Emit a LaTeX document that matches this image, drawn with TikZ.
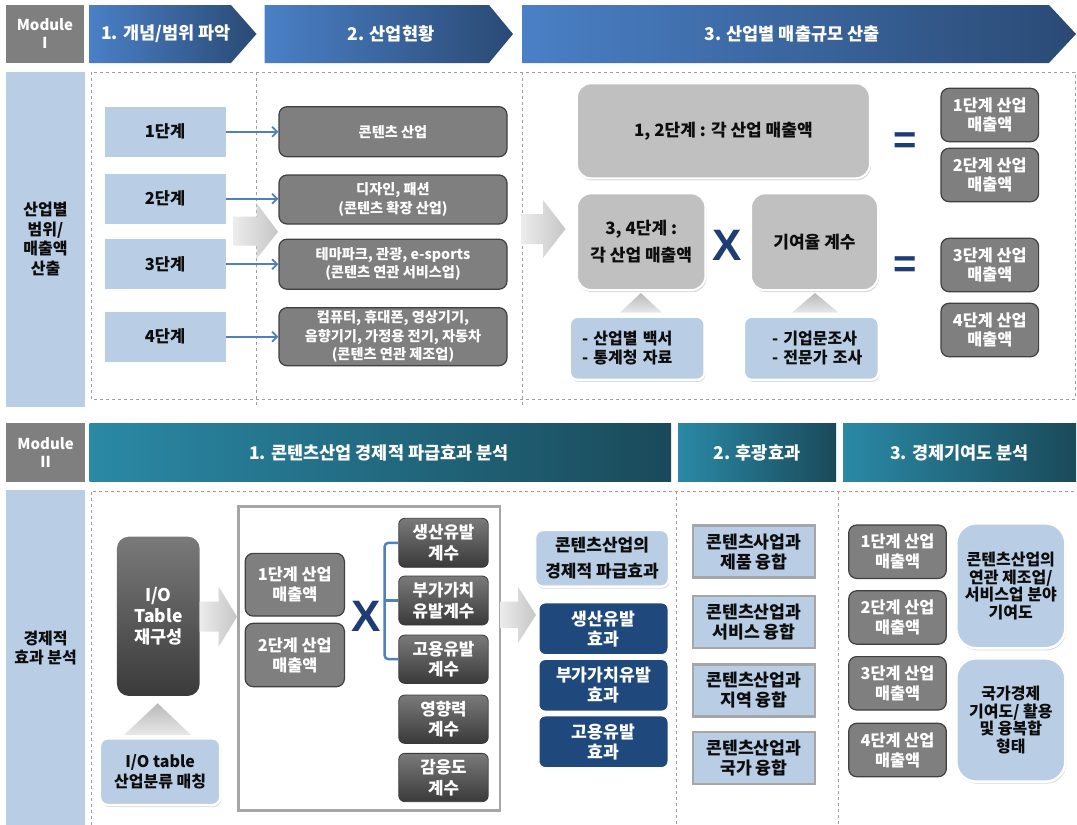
\documentclass[tikz,border=0pt]{standalone}
\usepackage{fontspec}
\setmainfont{Noto Sans CJK KR}
\newfontfamily\latinfont{Liberation Sans}
\usetikzlibrary{arrows.meta,shadows}
\definecolor{hbL}{HTML}{4A80C6}
\definecolor{hbR}{HTML}{2A4A74}
\definecolor{htL}{HTML}{2A89A6}
\definecolor{htR}{HTML}{1A4A5A}
\definecolor{modgray}{HTML}{7F7F7F}
\definecolor{lblue}{HTML}{B9CDE5}
\definecolor{dgray}{HTML}{7F7F7F}
\definecolor{dborder}{HTML}{404040}
\definecolor{lgray}{HTML}{C0C0C0}
\definecolor{navy}{HTML}{1F497D}
\definecolor{xblue}{HTML}{1F3D73}
\definecolor{arrblue}{HTML}{4F81BD}
\definecolor{gtop}{HTML}{7A7A7A}
\definecolor{gbot}{HTML}{3A3A3A}
\definecolor{fgray}{HTML}{A6A6A6}
\definecolor{txt}{HTML}{0D0D0D}
\tikzset{
  every node/.style={inner sep=0pt, align=center},
  modbox/.style={fill=modgray, text=white, font=\bfseries\fontsize{15}{18}\selectfont},
  htext/.style={text=white, font=\bfseries\fontsize{17.5}{20}\selectfont},
  sidelabel/.style={fill=lblue, text=txt, font=\bfseries\fontsize{16}{19.5}\selectfont},
  stepbox/.style={fill=lblue, text=txt, font=\bfseries\fontsize{16.5}{18}\selectfont, minimum width=121, minimum height=50},
  gbox/.style={fill=dgray, draw=dborder, line width=1.2pt, rounded corners=8pt, text=white, font=\bfseries\fontsize{14.2}{18.3}\selectfont, minimum width=228},
  lgbox/.style={fill=lgray, draw=white, line width=2pt, rounded corners=14pt, text=txt, font=\bfseries\fontsize{17}{27}\selectfont, drop shadow={opacity=0.3, shadow xshift=1pt, shadow yshift=-2pt}},
  lbglow/.style={fill=lblue, draw=white, line width=2.5pt, rounded corners=8pt, text=txt, drop shadow={opacity=0.3, shadow xshift=1pt, shadow yshift=-2pt}},
  rbox/.style={fill=dgray, draw=dborder, line width=1.2pt, rounded corners=8pt, text=white, font=\bfseries\fontsize{16.3}{18.3}\selectfont, minimum width=97.6, minimum height=53.4},
  gradbox/.style={top color=gtop, bottom color=gbot, draw=gbot, line width=0.8pt, rounded corners=6pt, text=white, font=\bfseries\fontsize{16.8}{20.5}\selectfont},
  navybox/.style={fill=navy, rounded corners=6pt, text=white, font=\bfseries\fontsize{17.2}{20}\selectfont, minimum width=128, minimum height=50.5},
  fbox/.style={fill=lblue, draw=fgray, line width=2.5pt, text=txt, font=\bfseries\fontsize{17.2}{20}\selectfont, minimum width=121.8, minimum height=52},
  bigx/.style={text=xblue, font=\latinfont\bfseries\fontsize{44}{44}\selectfont},
  eqsign/.style={text=xblue, font=\latinfont\bfseries\fontsize{40}{40}\selectfont},
  barrow/.style={draw=arrblue, line width=1.8pt, -{Straight Barb[length=5pt,width=10pt]}},
  dashline/.style={draw=gray!75, dashed, line width=0.8pt},
  grayarrow/.style={left color=gray!15, right color=gray!45},
  graytri/.style={top color=gray!55, bottom color=gray!18},
  bracket/.style={draw=arrblue, line width=2.5pt, rounded corners=4pt},
}
\begin{document}
\begin{tikzpicture}[x=1pt,y=-1pt]
\useasboundingbox (0,0) rectangle (1077,825);
\fill[white] (0,0) rectangle (1077,825);

% ---------- Module I headers ----------
\node[modbox, minimum width=78, minimum height=58] (m1) at (45,34) {Module\\Ⅰ};
\path[left color=hbL, right color=hbR] (89.5,5) -- (231,5) -- (256.5,34) -- (231,63) -- (89.5,63) -- cycle;
\node[htext] (h1) at (166,34) {1. 개념/범위 파악};
\path[left color=hbL, right color=hbR] (264.5,5) -- (489,5) -- (513,34) -- (489,63) -- (264.5,63) -- cycle;
\node[htext] (h2) at (391,34) {2. 산업현황};
\path[left color=hbL, right color=hbR] (522,5) -- (1049,5) -- (1076,34) -- (1049,63) -- (522,63) -- cycle;
\node[htext] (h3) at (792,34) {3. 산업별 매출규모 산출};

% ---------- Module I body ----------
\node[sidelabel, minimum width=79, minimum height=335] (lab1) at (45.5,239.2) {산업별\\범위/\\매출액\\산출};
\draw[dashline] (91,72) rectangle (1075,399);
\draw[dashline] (256.5,72) -- (256.5,407);
\draw[dashline] (522.5,72) -- (522.5,407);

\node[stepbox] (s1) at (165,131.7) {1단계};
\node[stepbox] (s2) at (165,198.7) {2단계};
\node[stepbox] (s3) at (165,264.2) {3단계};
\node[stepbox] (s4) at (165,336.7) {4단계};

\node[gbox, minimum height=50] (g1) at (393,131.7) {콘텐츠 산업};
\node[gbox, minimum height=49] (g2) at (393,199.5) {디자인, 패션\\(콘텐츠 확장 산업)};
\node[gbox, minimum height=50] (g3) at (393,264.2) {테마파크, 관광, e-sports\\(콘텐츠 연관 서비스업)};
\node[gbox, minimum height=58] (g4) at (393,336.7) {컴퓨터, 휴대폰, 영상기기,\\음향기기, 가정용 전기, 자동차\\(콘텐츠 연관 제조업)};

\draw[barrow] (s1.east) -- (s1.east -| g1.west);
\draw[barrow] (s2.east) -- (s2.east -| g2.west);
\draw[barrow] (s3.east) -- (s3.east -| g3.west);
\draw[barrow] (s4.east) -- (s4.east -| g4.west);

\path[grayarrow] (233.5,216.7) -- (256.5,216.7) -- (256.5,203) -- (278,231.7) -- (256.5,259) -- (256.5,245.7) -- (233.5,245.7) -- cycle;
\path[grayarrow] (521.7,214) -- (543,214) -- (543,200) -- (565.5,229) -- (543,258) -- (543,244) -- (521.7,244) -- cycle;

\node[lgbox, minimum width=293, minimum height=95] (b12) at (723.4,130.8) {1, 2단계 : 각 산업 매출액};
\node[lgbox, minimum width=128.4, minimum height=96.7] (b34) at (641.2,241.7) {3, 4단계 :\\각 산업 매출액};
\node[bigx] (x1) at (727,245) {X};
\node[lgbox, minimum width=127, minimum height=96.7] (bco) at (814.5,241.7) {기여율 계수};

\path[graytri] (640.8,293) -- (662,312.7) -- (620,312.7) -- cycle;
\path[graytri] (815,293) -- (838.6,312.7) -- (791.8,312.7) -- cycle;

\node[lbglow, minimum height=63.3, text width=110.4, inner xsep=12.3, align=left, font=\bfseries\fontsize{16}{19.4}\selectfont] (lb1) at (637.2,348.3) {\mbox{- 산업별 백서}\\\mbox{- 통계청 자료}};
\node[lbglow, minimum height=63.3, text width=78.6, inner xsep=28.2, align=left, font=\bfseries\fontsize{16}{19.4}\selectfont] (lb2) at (811.3,348.3) {\mbox{- 기업문조사}\\\mbox{- 전문가 조사}};

\node[eqsign] (eq1) at (904.7,143.3) {=};
\node[eqsign] (eq2) at (904.7,267.3) {=};

\node[rbox] (r1) at (989.8,115) {1단계 산업\\매출액};
\node[rbox] (r2) at (989.8,175) {2단계 산업\\매출액};
\node[rbox] (r3) at (989.8,265) {3단계 산업\\매출액};
\node[rbox] (r4) at (989.8,330) {4단계 산업\\매출액};

% ---------- Module II headers ----------
\node[modbox, minimum width=78.8, minimum height=58.4] (m2) at (45.6,452.5) {Module\\Ⅱ};
\path[left color=htL, right color=htR] (89.5,423.3) rectangle (671,481.7);
\node[htext] (bh1) at (379,452.5) {1. 콘텐츠산업 경제적 파급효과 분석};
\path[left color=htL, right color=htR] (678,423.3) rectangle (836,481.7);
\node[htext] (bh2) at (757,452.5) {2. 후광효과};
\path[left color=htL, right color=htR] (843,423.3) rectangle (1076,481.7);
\node[htext] (bh3) at (959.5,452.5) {3. 경제기여도 분석};

% ---------- Module II body ----------
\node[sidelabel, minimum width=78.8, minimum height=335] (lab2) at (45.6,657.5) {};
\node[text=txt, font=\bfseries\fontsize{16}{19.5}\selectfont] (lab2t) at (45.6,648) {경제적\\효과 분석};
\draw[dashline] (91.3,825) -- (91.3,491) -- (1077,491);
\draw[dashline] (676.3,491) -- (676.3,825);
\draw[dashline] (838.6,491) -- (838.6,825);

\node[gradbox, rounded corners=12pt, draw=none, minimum width=82.7, minimum height=159.3, font=\bfseries\fontsize{17.5}{21}\selectfont] (io) at (158.3,616.3) {I/O\\Table\\재구성};
\path[graytri] (157.7,703.3) -- (191,735) -- (124,735) -- cycle;
\node[lbglow, minimum width=120.5, minimum height=66.7, font=\bfseries\fontsize{16}{20}\selectfont] (iob) at (160.1,771.7) {I/O table\\산업분류 매칭};

\path[grayarrow] (199.7,601.7) -- (218.7,601.7) -- (218.7,586.7) -- (237,616.7) -- (218.7,646.7) -- (218.7,631.7) -- (199.7,631.7) -- cycle;

\draw[draw=fgray, line width=2.5pt] (238.6,506.7) rectangle (500,810.7);

\node[rbox, minimum width=99.2, minimum height=62.7, font=\bfseries\fontsize{16.3}{20}\selectfont] (t1) at (294.8,584.7) {1단계 산업\\매출액};
\node[rbox, minimum width=99.2, minimum height=63.4, font=\bfseries\fontsize{16.3}{20}\selectfont] (t2) at (294.8,655) {2단계 산업\\매출액};
\node[bigx] (x2) at (365.7,616.7) {X};

\node[gradbox, minimum width=89.5, minimum height=49] (c1) at (443.5,542.8) {생산유발\\계수};
\node[gradbox, minimum width=89.5, minimum height=49] (c2) at (443.5,600.5) {부가가치\\유발계수};
\node[gradbox, minimum width=89.5, minimum height=48.3] (c3) at (443.5,659.2) {고용유발\\계수};
\node[gradbox, minimum width=89.5, minimum height=48.3] (c4) at (443.5,719.2) {영향력\\계수};
\node[gradbox, minimum width=89.5, minimum height=48.3] (c5) at (443.5,777.5) {감응도\\계수};

\draw[bracket] (c1.west) -- ++(-13.8,0) |- (c3.west);
\draw[bracket] (c2.west) -- ++(-13.8,0);

\path[grayarrow] (500,601.7) -- (518,601.7) -- (518,586.7) -- (536,615) -- (518,643) -- (518,628) -- (500,628) -- cycle;

\node[lbglow, minimum width=134, minimum height=56.7, font=\bfseries\fontsize{17}{25.7}\selectfont] (e0) at (602,558.3) {콘텐츠산업의\\경제적 파급효과};
\node[navybox] (e1) at (603.5,628.7) {생산유발\\효과};
\node[navybox] (e2) at (603.5,685.3) {부가가치유발\\효과};
\node[navybox] (e3) at (603.5,741.7) {고용유발\\효과};

\node[fbox] (f1) at (753.9,551.7) {콘텐츠사업과\\제품 융합};
\node[fbox] (f2) at (753.9,621.8) {콘텐츠산업과\\서비스 융합};
\node[fbox] (f3) at (753.9,690.3) {콘텐츠산업과\\지역 융합};
\node[fbox] (f4) at (753.9,758.2) {콘텐츠산업과\\국가 융합};

\node[rbox, font=\bfseries\fontsize{16.3}{20}\selectfont] (q1) at (897.5,551.7) {1단계 산업\\매출액};
\node[rbox, font=\bfseries\fontsize{16.3}{20}\selectfont] (q2) at (897.5,617.5) {2단계 산업\\매출액};
\node[rbox, font=\bfseries\fontsize{16.3}{20}\selectfont] (q3) at (897.5,683.3) {3단계 산업\\매출액};
\node[rbox, font=\bfseries\fontsize{16.3}{20}\selectfont] (q4) at (897.5,750) {4단계 산업\\매출액};

\node[lbglow, rounded corners=20pt, minimum width=109.1, minimum height=125, font=\bfseries\fontsize{16}{17.5}\selectfont] (k1) at (1010.8,585.8) {콘텐츠산업의\\연관 제조업/\\서비스업 분야\\기여도};
\node[lbglow, rounded corners=20pt, minimum width=109.1, minimum height=123.4, font=\bfseries\fontsize{16}{17.5}\selectfont] (k2) at (1010.8,720) {국가경제\\기여도/ 활용\\및 융복합\\형태};
\end{tikzpicture}
\end{document}
